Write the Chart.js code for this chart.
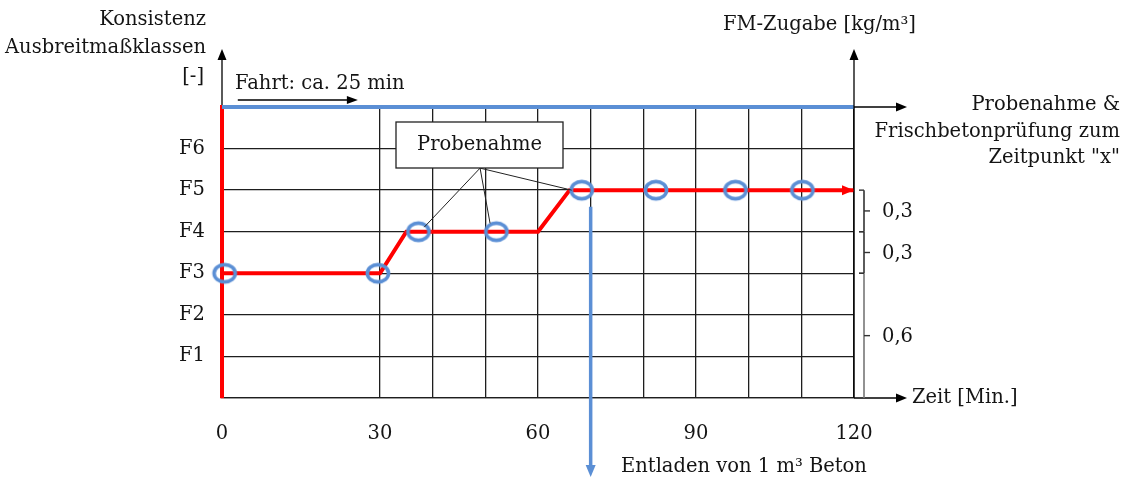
<!DOCTYPE html>
<html><head><meta charset="utf-8">
<script src="https://cdn.jsdelivr.net/npm/chart.js@4.4.1/dist/chart.umd.min.js"></script>
<style>html,body{margin:0;padding:0;background:#fff;}#wrap{width:1131px;height:479px;}</style>
</head><body><div id="wrap"><canvas id="c" width="1131" height="479"></canvas></div>
<script>
// ---- data ----
const consistencyClasses = ['F1','F2','F3','F4','F5','F6'];
const timeTickValues = [0,30,60,90,120];
const timeTickLabels = ['0','30','60','90','120'];
const gridTimes = [30,40,50,60,70,80,90,100,110,120];
const pathTimes = [0,30,35,60,66,120];
const pathClasses = [3,3,4,4,5,5];
const sampleTimes = [0.5,29.6,37.3,52.1,68.3,82.4,97.5,110.2];
const sampleClasses = [3,3,4,4,5,5,5,5];
const driveTimes = [0,120];
const driveLevel = [7,7];
const unloadTime = 70;
const fmRanges = [[4,5],[3,4],[0,3]];
const fmLabels = ['0,3','0,3','0,6'];

// ---- styles ----
const RED = '#ff0000', BLUE = '#5b8fd5', INK = '#141414', GRID = '#1e1e1e';
const FONT = '"DejaVu Serif", "Liberation Serif", serif';
const FS = 19.5;

function ellipseImg(){
  const c = document.createElement('canvas'); c.width = 28; c.height = 24;
  const g = c.getContext('2d'); g.strokeStyle = BLUE; g.lineWidth = 3.6;
  g.beginPath(); g.ellipse(14, 12, 10.6, 8.6, 0, 0, Math.PI*2); g.stroke();
  return c;
}
function arrow(ctx, x, y, dir, color, len=11, half=4.5){
  ctx.save(); ctx.fillStyle = color; ctx.beginPath();
  if (dir==='right'){ ctx.moveTo(x,y); ctx.lineTo(x-len,y-half); ctx.lineTo(x-len,y+half); }
  if (dir==='up'){ ctx.moveTo(x,y); ctx.lineTo(x-half,y+len); ctx.lineTo(x+half,y+len); }
  if (dir==='down'){ ctx.moveTo(x,y); ctx.lineTo(x-half,y-len); ctx.lineTo(x+half,y-len); }
  ctx.closePath(); ctx.fill(); ctx.restore();
}
function line(ctx, x1,y1,x2,y2,color,w){
  ctx.save(); ctx.strokeStyle=color; ctx.lineWidth=w; ctx.beginPath(); ctx.moveTo(x1,y1); ctx.lineTo(x2,y2); ctx.stroke(); ctx.restore();
}
function text(ctx, s, x, y, align){
  ctx.save(); ctx.fillStyle=INK; ctx.font = FS+'px '+FONT; ctx.textAlign=align||'left'; ctx.textBaseline='middle';
  ctx.fillText(s, x, y); ctx.restore();
}

const decor = {
  id: 'decor',
  afterDraw(chart){
    const ctx = chart.ctx, xs = chart.scales.x, ys = chart.scales.y;
    const X = v => xs.getPixelForValue(v), Y = v => ys.getPixelForValue(v);
    // axes extensions
    line(ctx, X(0), Y(7)-2, X(0), 58, '#000', 1.3); arrow(ctx, X(0), 49, 'up', '#000');
    line(ctx, X(120), Y(0), X(120), 58, '#000', 1.3); arrow(ctx, X(120), 49, 'up', '#000');
    line(ctx, X(120), Y(7), 898, Y(7), '#000', 1.3); arrow(ctx, 907, Y(7), 'right', '#000');
    line(ctx, X(120), Y(0), 898, Y(0), '#000', 1.3); arrow(ctx, 907, Y(0), 'right', '#000');
    // red arrow at end of path
    arrow(ctx, X(pathTimes[pathTimes.length-1]), Y(pathClasses[pathClasses.length-1]), 'right', RED, 12, 5);
    // drive arrow
    line(ctx, X(3), Y(7)-7, X(25.2), Y(7)-7, '#000', 1.3); arrow(ctx, X(25.8), Y(7)-7, 'right', '#000', 11, 4);
    // unload arrow
    line(ctx, X(unloadTime), Y(4.6), X(unloadTime), 466, BLUE, 3.5); arrow(ctx, X(unloadTime), 477, 'down', BLUE, 12, 5);
    // FM braces
    const bx = X(120) + 10;
    fmRanges.forEach((r, i) => {
      const top = Y(r[1]), bot = Y(r[0]), mid = (top+bot)/2;
      const col = i===2 ? '#777' : '#333';
      line(ctx, bx, top, bx, bot, col, 1.6);
      line(ctx, bx-5, top, bx, top, '#333', 1.4);
      if (i < 2) line(ctx, bx-5, bot, bx, bot, '#333', 1.4);
      line(ctx, bx, mid, bx+6, mid, '#333', 1.4);
      text(ctx, fmLabels[i], bx+18, mid+1);
    });
    // Probenahme callout
    const hub = [X(49), Y(5.53)];
    [[38.4,4.11],[50.9,4.2],[66.4,5.0]].forEach(p => line(ctx, hub[0], hub[1], X(p[0]), Y(p[1]), '#222', 1));
    ctx.save(); ctx.fillStyle='#fff'; ctx.strokeStyle='#222'; ctx.lineWidth=1.3;
    ctx.fillRect(396, 122, 167, 46); ctx.strokeRect(396, 122, 167, 46); ctx.restore();
    text(ctx, 'Probenahme', 479.5, 145, 'center');
    // titles
    text(ctx, 'Konsistenz', 206, 20, 'right');
    text(ctx, 'Ausbreitmaßklassen', 206, 48, 'right');
    text(ctx, '[-]', 204, 77, 'right');
    text(ctx, 'Fahrt: ca. 25 min', 235, 84);
    text(ctx, 'FM-Zugabe [kg/m³]', 723, 25);
    text(ctx, 'Probenahme &', 1120, 105, 'right');
    text(ctx, 'Frischbetonprüfung zum', 1120, 132, 'right');
    text(ctx, 'Zeitpunkt "x"', 1120, 158, 'right');
    text(ctx, 'Zeit [Min.]', 912, 398);
    text(ctx, 'Entladen von 1 m³ Beton', 621, 467);
  }
};

new Chart(document.getElementById('c'), {
  type: 'scatter',
  data: {
    datasets: [
      { label: 'Probenahme', data: sampleTimes.map((t,i)=>({x:t,y:sampleClasses[i]})),
        pointStyle: ellipseImg(), pointRadius: 10, showLine: false, order: 0, clip: false },
      { label: 'Konsistenz', data: pathTimes.map((t,i)=>({x:t,y:pathClasses[i]})),
        showLine: true, borderColor: RED, borderWidth: 4, pointRadius: 0, order: 2, clip: false },
      { label: 'Fahrt', data: driveTimes.map((t,i)=>({x:t,y:driveLevel[i]})),
        showLine: true, borderColor: BLUE, borderWidth: 4, pointRadius: 0, order: 1, clip: false }
    ]
  },
  options: {
    responsive: false, animation: false, devicePixelRatio: 1,
    layout: { padding: { left: 0, right: 277, top: 107, bottom: 0 } },
    plugins: { legend: { display: false }, tooltip: { enabled: false } },
    scales: {
      x: {
        type: 'linear', min: 0, max: 120,
        afterBuildTicks: s => { s.ticks = [...new Set([...timeTickValues, ...gridTimes])].sort((a,b)=>a-b).map(v=>({value:v})); },
        afterFit: s => { s.height = 81; },
        ticks: { autoSkip: false, maxRotation: 0, padding: 24, color: INK, font: { family: FONT, size: FS },
          callback: v => { const i = timeTickValues.indexOf(v); return i >= 0 ? timeTickLabels[i] : ''; } },
        grid: { drawTicks: false, lineWidth: 1.3, color: c => (c.tick && c.tick.value === 0) ? 'rgba(0,0,0,0)' : GRID },
        border: { display: true, color: GRID, width: 1.3 }
      },
      y: {
        type: 'linear', min: 0, max: 7,
        afterBuildTicks: s => { s.ticks = [0,1,2,3,4,5,6,7].map(v=>({value:v})); },
        afterFit: s => { s.width = 222; },
        ticks: { autoSkip: false, padding: 17, color: INK, font: { family: FONT, size: FS },
          callback: v => (v >= 1 && v <= consistencyClasses.length) ? consistencyClasses[v-1] : '' },
        grid: { drawTicks: false, lineWidth: 1.3, color: c => (c.tick && (c.tick.value === 7)) ? 'rgba(0,0,0,0)' : GRID },
        border: { display: true, color: RED, width: 4 }
      }
    }
  },
  plugins: [decor]
});
</script></body></html>
